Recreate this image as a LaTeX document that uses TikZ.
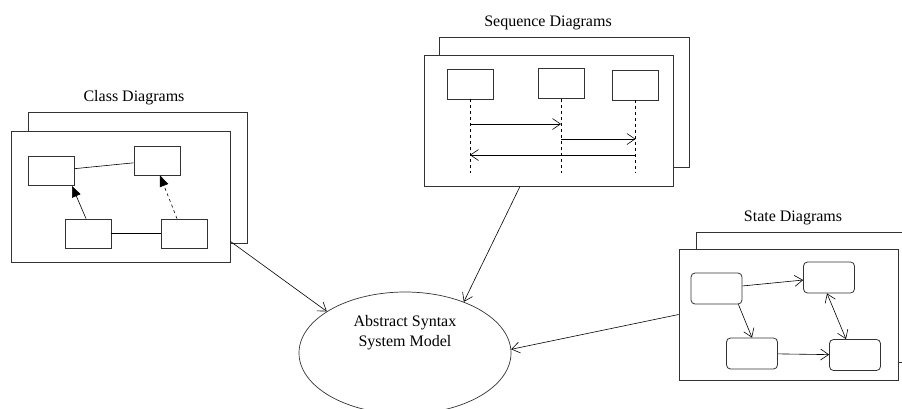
\documentclass[tikz,border=0pt]{standalone}
\usepackage{fontspec}
\setmainfont{Liberation Serif}
\usepackage{tikz}
\usetikzlibrary{arrows.meta,shapes.geometric,positioning}

\tikzset{
  frame/.style={draw=black!80, fill=white, line width=0.8pt, inner sep=0pt, minimum width=219pt, minimum height=131pt},
  cbox/.style={draw=black!80, fill=white, line width=0.8pt, inner sep=0pt, minimum width=46pt, minimum height=29pt},
  sbox/.style={cbox, rounded corners=4pt, minimum width=51pt, minimum height=31pt},
  title/.style={font=\fontsize{16}{20}\selectfont},
  open/.style={-{Straight Barb[length=8pt,width=11pt]}, line width=0.6pt},
  inherit/.style={-{Triangle[length=11pt,width=9pt]}, line width=0.6pt},
  lifeline/.style={dashed, line width=0.7pt}
}

\begin{document}
\begin{tikzpicture}[x=1pt, y=-1pt]

    \useasboundingbox (0,0) rectangle (902,408);
    \clip (0,0) rectangle (902,408);

    % Class Diagrams
    \node[title] (ctitle) at (134,98) {Class Diagrams};
    \node[frame] (cback) at (137.5,178) {};
    \node[frame] (cfront) at (120.5,196.5) {};
    \foreach \name/\x/\y in {ca/51/171, cb/157/160.5, cc/88/233.5, cd/184/233.5} {
      \node[cbox] (\name) at (\x,\y) {};
    }
    \draw[line width=0.6pt] (ca) -- (cb);
    \draw[line width=0.6pt] (cc) -- (cd);
    \draw[inherit] ([xshift=-2pt]cc.north) -- ([xshift=21pt]ca.south);
    \draw[inherit, dashed] ([xshift=-7pt]cd.north) -- ([xshift=3pt]cb.south);

    % Sequence Diagrams
    \node[title] (qtitle) at (548,23) {Sequence Diagrams};
    \node[frame, minimum width=250pt, minimum height=130pt] (qback) at (564,102) {};
    \node[frame, minimum width=249pt] (qfront) at (548.5,120.5) {};
    \foreach \name/\x/\y in {q1/470/84, q2/561/83.5, q3/635.5/85} {
      \node[cbox, minimum height=30pt] (\name) at (\x,\y) {};
      \draw[lifeline] (\name.south) -- (\name.south |- 0,173);
    }
    \draw[open] (q1.south |- 0,124) -- (q2.south |- 0,124);
    \draw[open] (q2.south |- 0,139) -- (q3.south |- 0,139);
    \draw[open] (q3.south |- 0,155) -- (q1.south |- 0,155);

    % State Diagrams
    \node[title] (stitle) at (793,218) {State Diagrams};
    \node[frame, minimum width=214pt, minimum height=130pt] (sback) at (803,297) {};
    \node[frame] (sfront) at (788.5,314.5) {};
    \foreach \name/\x/\y in {s1/716.5/288.5, s2/829/277.5, s3/752/353.5, s4/855/355} {
      \node[sbox] (\name) at (\x,\y) {};
    }
    \draw[open] (s1) -- (s2);
    \draw[open] ([xshift=-4pt]s1.south east) -- (s3.north);
    \draw[open] (s3) -- (s4);
    \draw[open, {Straight Barb[length=8pt,width=11pt]}-{Straight Barb[length=8pt,width=11pt]}] ([xshift=-2pt]s2.south) -- ([xshift=-9pt]s4.north);

    % Abstract syntax
    \node[ellipse, draw=black!80, line width=0.7pt, inner sep=0pt, minimum width=212pt, minimum height=122pt] (asm) at (405,353) {};
    \node[title, align=center] (asmtext) at (405,333) {Abstract Syntax\\System Model};

    % Verbindungen
    \draw[open] ([yshift=21pt]cfront.south east) -- (asm.152);
    \draw[open] ([xshift=-28.5pt]qfront.south) -- (asm.41);
    \draw[open] (sfront.west) -- (asm.2);

\end{tikzpicture}
\end{document}
